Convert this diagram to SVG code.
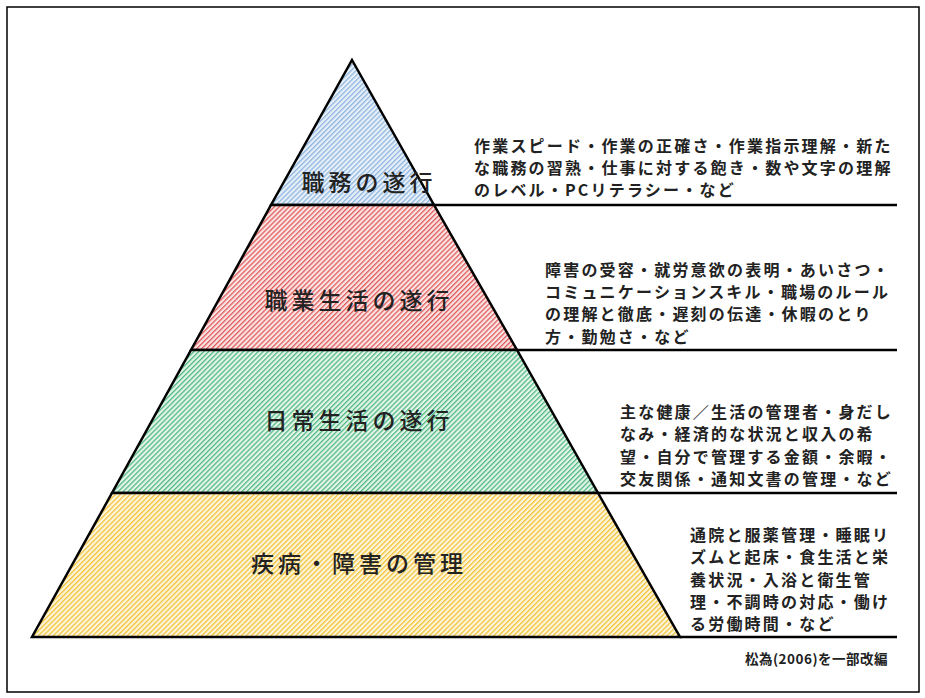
<svg xmlns="http://www.w3.org/2000/svg" width="925" height="698" viewBox="0 0 925 698">
<style>
.lbl{font-family:"Noto Sans CJK JP",sans-serif;font-size:23px;font-weight:500;fill:#222;text-anchor:middle;letter-spacing:4px}
.d{font-family:"Noto Sans CJK JP",sans-serif;font-size:16px;font-weight:700;fill:#222;letter-spacing:2.2px}
.sh{stroke:#000;stroke-width:2.5;stroke-linejoin:miter}
</style>
<defs>
<pattern id="pb" width="3.5" height="3.5" patternUnits="userSpaceOnUse" patternTransform="rotate(45)"><rect width="3.5" height="3.5" fill="#e8f0f9"/><rect width="1.3" height="3.5" fill="#8fb6df"/></pattern>
<pattern id="pr" width="3.5" height="3.5" patternUnits="userSpaceOnUse" patternTransform="rotate(45)"><rect width="3.5" height="3.5" fill="#fbe6e6"/><rect width="1.3" height="3.5" fill="#e05a5a"/></pattern>
<pattern id="pg" width="3.5" height="3.5" patternUnits="userSpaceOnUse" patternTransform="rotate(45)"><rect width="3.5" height="3.5" fill="#e5f5ec"/><rect width="1.3" height="3.5" fill="#4fb97f"/></pattern>
<pattern id="py" width="3.5" height="3.5" patternUnits="userSpaceOnUse" patternTransform="rotate(45)"><rect width="3.5" height="3.5" fill="#fdf6dc"/><rect width="1.3" height="3.5" fill="#f2c23a"/></pattern>
</defs>
<rect x="0" y="0" width="925" height="698" fill="#fff"/>
<rect x="7" y="7" width="912" height="685" fill="none" stroke="#000" stroke-width="1.5"/>
<g id="tier1"><polygon class="sh" points="352,60 434,205 271,205" fill="url(#pb)"/><text class="lbl" x="369" y="191">職務の遂行</text></g>
<g id="tier2"><polygon class="sh" points="271,205 434,205 517,350 191,350" fill="url(#pr)"/><text class="lbl" x="359" y="309">職業生活の遂行</text></g>
<g id="tier3"><polygon class="sh" points="191,350 517,350 598,493 112,493" fill="url(#pg)"/><text class="lbl" x="359" y="429">日常生活の遂行</text></g>
<g id="tier4"><polygon class="sh" points="112,493 598,493 680,637 32,637" fill="url(#py)"/><text class="lbl" x="359" y="572">疾病・障害の管理</text></g>
<g id="connectors" stroke="#000" stroke-width="2.5">
<line x1="434" y1="205" x2="897" y2="205"/>
<line x1="517" y1="350" x2="897" y2="350"/>
<line x1="598" y1="493" x2="897" y2="493"/>
<line x1="680" y1="637" x2="897" y2="637"/>
</g>
<g id="desc1" class="d"><text x="474" y="152">作業スピード・作業の正確さ・作業指示理解・新た</text><text x="474" y="174">な職務の習熟・仕事に対する飽き・数や文字の理解</text><text x="474" y="196">のレベル・PCリテラシー・など</text></g>
<g id="desc2" class="d"><text x="545" y="276">障害の受容・就労意欲の表明・あいさつ・</text><text x="545" y="298">コミュニケーションスキル・職場のルール</text><text x="545" y="320">の理解と徹底・遅刻の伝達・休暇のとり</text><text x="545" y="343">方・勤勉さ・など</text></g>
<g id="desc3" class="d"><text x="620" y="418">主な健康／生活の管理者・身だし</text><text x="620" y="440">なみ・経済的な状況と収入の希</text><text x="620" y="463">望・自分で管理する金額・余暇・</text><text x="620" y="485">交友関係・通知文書の管理・など</text></g>
<g id="desc4" class="d"><text x="690" y="541">通院と服薬管理・睡眠リ</text><text x="690" y="563">ズムと起床・食生活と栄</text><text x="690" y="586">養状況・入浴と衛生管</text><text x="690" y="608">理・不調時の対応・働け</text><text x="690" y="630">る労働時間・など</text></g>
<text x="888" y="664" text-anchor="end" style="font-family:'Noto Sans CJK JP',sans-serif;font-size:13.5px;font-weight:700;fill:#222;letter-spacing:0.5px">松為(2006)を一部改編</text>
</svg>
